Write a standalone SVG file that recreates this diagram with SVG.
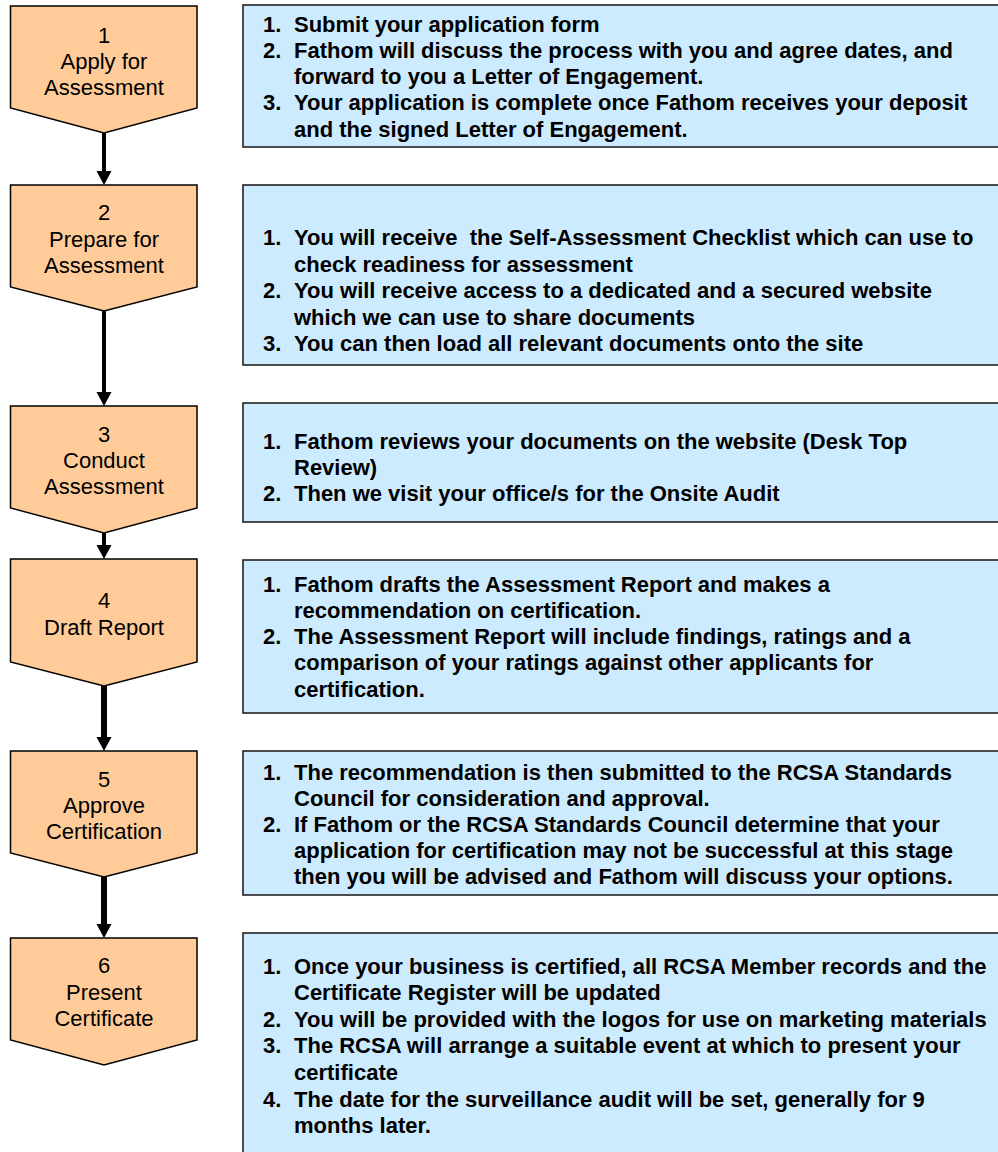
<svg xmlns="http://www.w3.org/2000/svg" width="998" height="1152" viewBox="0 0 998 1152">
<defs>
<style>
.chev{fill:#FFCC99;stroke:#000;stroke-width:1.5;stroke-linejoin:miter}
.box{fill:#CCEBFF;stroke:#222;stroke-width:1.6}
.ct{font-family:"Liberation Sans",Arial,sans-serif;font-size:22px;fill:#000;text-anchor:middle}
.bt{font-family:"Liberation Sans",Arial,sans-serif;font-size:22px;font-weight:bold;fill:#000;white-space:pre}
.arr{stroke:#000;fill:none}
</style>
<marker id="ah" markerUnits="userSpaceOnUse" markerWidth="15" markerHeight="16" refX="0" refY="7.5" orient="auto" viewBox="0 0 15 16">
<path d="M0,0 L14,7.5 L0,15 z" fill="#000"/>
</marker>
</defs>
<rect width="998" height="1152" fill="#fff"/>

<g id="connectors">
<line class="arr" x1="104" y1="133" x2="104" y2="171" stroke-width="4" marker-end="url(#ah)"/>
<line class="arr" x1="104" y1="311" x2="104" y2="392" stroke-width="4" marker-end="url(#ah)"/>
<line class="arr" x1="104" y1="533" x2="104" y2="545" stroke-width="4" marker-end="url(#ah)"/>
<line class="arr" x1="104" y1="686" x2="104" y2="737" stroke-width="6" marker-end="url(#ah)"/>
<line class="arr" x1="104" y1="877" x2="104" y2="924" stroke-width="6" marker-end="url(#ah)"/>
</g>

<g id="step1">
<polygon class="chev" points="10.5,6 197,6 197,108 104,133 10.5,108"/>
<text class="ct" x="104" y="43">1</text>
<text class="ct" x="104" y="69">Apply for</text>
<text class="ct" x="104" y="95">Assessment</text>
</g>
<g id="desc1">
<rect class="box" x="243" y="5" width="770" height="142"/>
<text class="bt" y="32"><tspan x="263">1.</tspan><tspan x="294">Submit your application form</tspan></text>
<text class="bt" y="58"><tspan x="263">2.</tspan><tspan x="294">Fathom will discuss the process with you and agree dates, and</tspan></text>
<text class="bt" y="84"><tspan x="294">forward to you a Letter of Engagement.</tspan></text>
<text class="bt" y="110"><tspan x="263">3.</tspan><tspan x="294">Your application is complete once Fathom receives your deposit</tspan></text>
<text class="bt" y="137"><tspan x="294">and the signed Letter of Engagement.</tspan></text>
</g>

<g id="step2">
<polygon class="chev" points="10.5,185 197,185 197,287 104,311 10.5,287"/>
<text class="ct" x="104" y="220">2</text>
<text class="ct" x="104" y="247">Prepare for</text>
<text class="ct" x="104" y="273">Assessment</text>
</g>
<g id="desc2">
<rect class="box" x="243" y="185" width="770" height="180"/>
<text class="bt" y="245"><tspan x="263">1.</tspan><tspan x="294">You will receive  the Self-Assessment Checklist which can use to</tspan></text>
<text class="bt" y="272"><tspan x="294">check readiness for assessment</tspan></text>
<text class="bt" y="298"><tspan x="263">2.</tspan><tspan x="294">You will receive access to a dedicated and a secured website</tspan></text>
<text class="bt" y="325"><tspan x="294">which we can use to share documents</tspan></text>
<text class="bt" y="351"><tspan x="263">3.</tspan><tspan x="294">You can then load all relevant documents onto the site</tspan></text>
</g>

<g id="step3">
<polygon class="chev" points="10.5,406 197,406 197,508 104,533 10.5,508"/>
<text class="ct" x="104" y="442">3</text>
<text class="ct" x="104" y="468">Conduct</text>
<text class="ct" x="104" y="494">Assessment</text>
</g>
<g id="desc3">
<rect class="box" x="243" y="403" width="770" height="119"/>
<text class="bt" y="449"><tspan x="263">1.</tspan><tspan x="294">Fathom reviews your documents on the website (Desk Top</tspan></text>
<text class="bt" y="475"><tspan x="294">Review)</tspan></text>
<text class="bt" y="501"><tspan x="263">2.</tspan><tspan x="294">Then we visit your office/s for the Onsite Audit</tspan></text>
</g>

<g id="step4">
<polygon class="chev" points="10.5,559 197,559 197,662 104,686 10.5,662"/>
<text class="ct" x="104" y="608">4</text>
<text class="ct" x="104" y="635">Draft Report</text>
</g>
<g id="desc4">
<rect class="box" x="243" y="560" width="770" height="153"/>
<text class="bt" y="592"><tspan x="263">1.</tspan><tspan x="294">Fathom drafts the Assessment Report and makes a</tspan></text>
<text class="bt" y="618"><tspan x="294">recommendation on certification.</tspan></text>
<text class="bt" y="644"><tspan x="263">2.</tspan><tspan x="294">The Assessment Report will include findings, ratings and a</tspan></text>
<text class="bt" y="670"><tspan x="294">comparison of your ratings against other applicants for</tspan></text>
<text class="bt" y="697"><tspan x="294">certification.</tspan></text>
</g>

<g id="step5">
<polygon class="chev" points="10.5,751 197,751 197,853 104,877 10.5,853"/>
<text class="ct" x="104" y="787">5</text>
<text class="ct" x="104" y="813">Approve</text>
<text class="ct" x="104" y="839">Certification</text>
</g>
<g id="desc5">
<rect class="box" x="243" y="751" width="770" height="144"/>
<text class="bt" y="780"><tspan x="263">1.</tspan><tspan x="294">The recommendation is then submitted to the RCSA Standards</tspan></text>
<text class="bt" y="806"><tspan x="294">Council for consideration and approval.</tspan></text>
<text class="bt" y="832"><tspan x="263">2.</tspan><tspan x="294">If Fathom or the RCSA Standards Council determine that your</tspan></text>
<text class="bt" y="858"><tspan x="294">application for certification may not be successful at this stage</tspan></text>
<text class="bt" y="884"><tspan x="294">then you will be advised and Fathom will discuss your options.</tspan></text>
</g>

<g id="step6">
<polygon class="chev" points="10.5,938 197,938 197,1040 104,1065 10.5,1040"/>
<text class="ct" x="104" y="973">6</text>
<text class="ct" x="104" y="1000">Present</text>
<text class="ct" x="104" y="1026">Certificate</text>
</g>
<g id="desc6">
<rect class="box" x="243" y="933" width="770" height="240"/>
<text class="bt" y="974"><tspan x="263">1.</tspan><tspan x="294">Once your business is certified, all RCSA Member records and the</tspan></text>
<text class="bt" y="1000"><tspan x="294">Certificate Register will be updated</tspan></text>
<text class="bt" y="1027"><tspan x="263">2.</tspan><tspan x="294">You will be provided with the logos for use on marketing materials</tspan></text>
<text class="bt" y="1053"><tspan x="263">3.</tspan><tspan x="294">The RCSA will arrange a suitable event at which to present your</tspan></text>
<text class="bt" y="1080"><tspan x="294">certificate</tspan></text>
<text class="bt" y="1107"><tspan x="263">4.</tspan><tspan x="294">The date for the surveillance audit will be set, generally for 9</tspan></text>
<text class="bt" y="1133"><tspan x="294">months later.</tspan></text>
</g>
</svg>
